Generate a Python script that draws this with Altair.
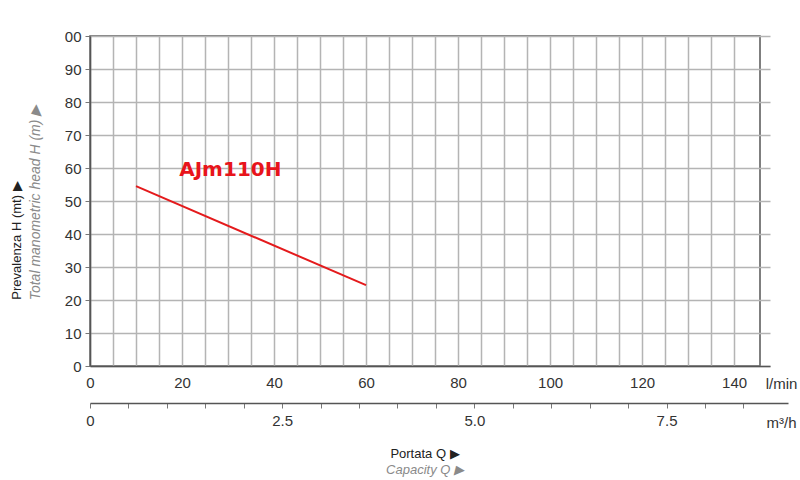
import altair as alt
import pandas as pd

# Data
flow_lmin = [10, 60]          # l/min
head_m = [54.5, 24.5]         # m
model_name = ["AJm110H"]
label_q = [30.5]
label_h = [59.5]

y_ticks = list(range(0, 101, 10))
x_ticks = list(range(0, 145, 5))
m3_ticks = [i * 0.5 for i in range(0, 18)]

df = pd.DataFrame({"q": flow_lmin, "h": head_m})
df["q_m3"] = df["q"] * 0.06
df_lab = pd.DataFrame({"q": label_q, "h": label_h, "t": model_name})

FONT = "Liberation Sans"
GRID = "#b4b4b4"

xscale = alt.Scale(domain=[0, 147.8], range=[0, 680], nice=False, zero=False)
yscale = alt.Scale(domain=[0, 100], nice=False, zero=False)

line = alt.Chart(df).mark_line(color="#e41a1c", strokeWidth=2).encode(
    x=alt.X("q:Q", scale=xscale,
            axis=alt.Axis(values=x_ticks,
                          labelExpr="datum.value % 20 == 0 ? datum.label : ''",
                          grid=True, gridColor=GRID, gridWidth=1.5,
                          tickSize=0, labelPadding=9,
                          labelFont=FONT, labelFontSize=15, labelColor="#333",
                          domainColor="#555", domainWidth=1.5,
                          title="l/min", titleX=691, titleY=17,
                          titleAlign="center", titleBaseline="middle",
                          titleFont=FONT, titleFontSize=15, titleFontWeight="normal",
                          titleColor="#333", labelFlush=False)),
    y=alt.Y("h:Q", scale=yscale,
            axis=alt.Axis(values=y_ticks,
                          labelExpr="datum.value == 100 ? '00' : datum.label",
                          grid=True, gridColor=GRID, gridWidth=1.5,
                          tickSize=5, tickColor="#777", labelPadding=4,
                          labelFont=FONT, labelFontSize=15, labelColor="#333",
                          domainColor="#555", domainWidth=1.5,
                          title="Prevalenza H (mt) ▶", titleX=-67, titleY=204,
                          titleAngle=270, titleAlign="center", titleBaseline="bottom",
                          titleFont=FONT, titleFontSize=13, titleFontWeight="normal",
                          titleColor="#222", labelFlush=False)),
)

label = alt.Chart(df_lab).mark_text(
    color="#e8141b", font="DejaVu Sans", fontWeight="bold", fontSize=20,
    align="center", baseline="middle"
).encode(
    x=alt.X("q:Q", scale=xscale, axis=None),
    y=alt.Y("h:Q", scale=yscale, axis=None),
    text="t:N",
)

ghost = alt.Chart(df).mark_line(opacity=0).encode(
    x=alt.X("q_m3:Q",
            scale=alt.Scale(domain=[0, 9.08], range=[0, 698], nice=False, zero=False),
            axis=alt.Axis(orient="bottom", offset=37, values=m3_ticks,
                          labelExpr="datum.value == 0 ? '0' : (datum.value % 2.5 == 0 ? format(datum.value, '.1f') : '')",
                          grid=False, tickSize=5, tickColor="#777",
                          labelPadding=5, labelFont=FONT, labelFontSize=15,
                          labelColor="#333", domainColor="#555", domainWidth=1.5,
                          title="m³/h", titleX=691, titleY=19,
                          titleAlign="center", titleBaseline="middle",
                          titleFont=FONT, titleFontSize=15, titleFontWeight="normal",
                          titleColor="#333", labelFlush=False)),
    y=alt.Y("h:Q", scale=yscale,
            axis=alt.Axis(orient="left", labels=False, ticks=False, domain=False,
                          grid=False,
                          title="Total manometric head H (m) ▶", titleX=-48, titleY=166,
                          titleAngle=270, titleAlign="center", titleBaseline="bottom",
                          titleFont=FONT, titleFontSize=14, titleFontWeight="normal",
                          titleFontStyle="italic", titleColor="#8a8a8a")),
)

chart = alt.layer(line, label, ghost).resolve_scale(
    x="independent", y="independent"
).properties(
    width=670, height=330,
    autosize=alt.AutoSizeParams(type="none"),
    padding={"left": 90, "top": 36, "right": 40, "bottom": 114},
    background="white",
    title=alt.TitleParams(
        text="Portata Q ▶", subtitle="Capacity Q ▶", orient="bottom",
        anchor="middle", font=FONT, fontSize=13, fontWeight="normal",
        color="#222", subtitleFont=FONT, subtitleFontSize=13,
        subtitleColor="#8a8a8a", subtitleFontStyle="italic",
        subtitlePadding=3, offset=18,
    ),
).configure_view(stroke="#555", strokeWidth=1.5)

chart.save("out.html", embed_options={"renderer": "svg", "actions": False})
